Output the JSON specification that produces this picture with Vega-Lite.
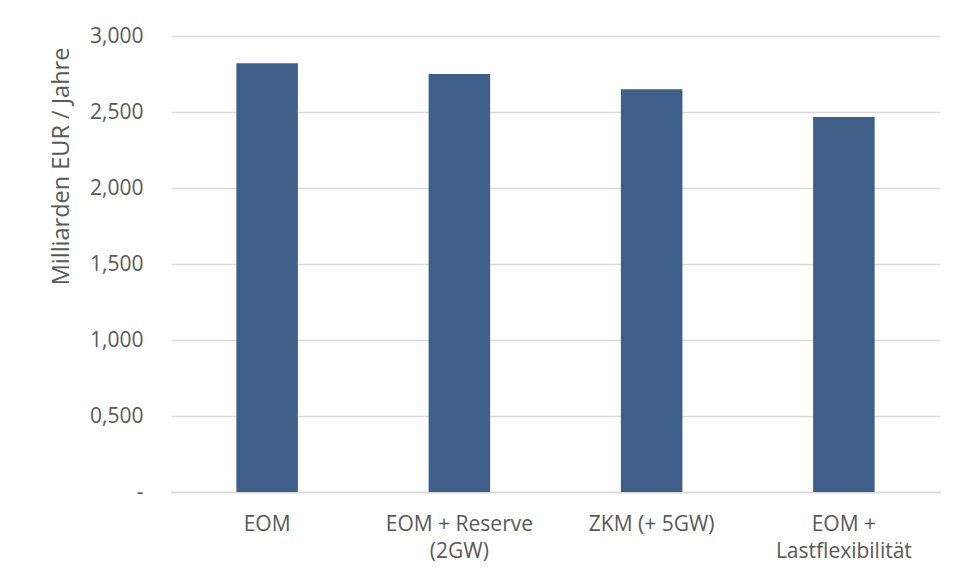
{
  "$schema": "https://vega.github.io/schema/vega-lite/v6.json",
  "width": 769,
  "height": 456,
  "autosize": {"type": "none"},
  "padding": {"left": 171, "top": 36, "right": 17, "bottom": 86},
  "background": "#ffffff",
  "config": {
    "view": {"stroke": null},
    "font": "Open Sans"
  },
  "data": {
    "values": [
      {"szenario": "EOM", "kosten": 2.820},
      {"szenario": "EOM + Reserve (2GW)", "kosten": 2.750},
      {"szenario": "ZKM (+ 5GW)", "kosten": 2.649},
      {"szenario": "EOM + Lastflexibilität", "kosten": 2.467}
    ]
  },
  "mark": {"type": "bar", "color": "#3d5f8a"},
  "encoding": {
    "x": {
      "field": "szenario",
      "type": "nominal",
      "sort": null,
      "scale": {"paddingInner": 0.68, "paddingOuter": 0.34},
      "axis": {
        "title": null,
        "labelAngle": 0,
        "labelFont": "Open Sans",
        "labelFontSize": 21,
        "labelColor": "#595959",
        "labelPadding": 21,
        "labelLineHeight": 27,
        "labelExpr": "datum.label == 'EOM + Reserve (2GW)' ? ['EOM + Reserve', '(2GW)'] : datum.label == 'EOM + Lastflexibilität' ? ['EOM +', 'Lastflexibilität'] : datum.label",
        "ticks": false,
        "domainColor": "#d9d9d9",
        "domainWidth": 1.5
      }
    },
    "y": {
      "field": "kosten",
      "type": "quantitative",
      "scale": {"domain": [0, 3], "nice": false},
      "axis": {
        "title": "Milliarden EUR / Jahre",
        "titleFont": "Open Sans",
        "titleFontSize": 23.5,
        "titleFontWeight": "normal",
        "titleColor": "#595959",
        "titleAngle": -90,
        "titleAlign": "center",
        "titleBaseline": "middle",
        "titleX": -110,
        "titleY": 130,
        "values": [0, 0.5, 1, 1.5, 2, 2.5, 3],
        "labelExpr": "datum.value == 0 ? '-' : replace(format(datum.value, '.3f'), '.', ',')",
        "labelFont": "Open Sans",
        "labelFontSize": 21,
        "labelColor": "#595959",
        "labelPadding": 28,
        "ticks": false,
        "domain": false,
        "grid": true,
        "gridColor": "#d9d9d9",
        "gridWidth": 1.5
      }
    }
  }
}
